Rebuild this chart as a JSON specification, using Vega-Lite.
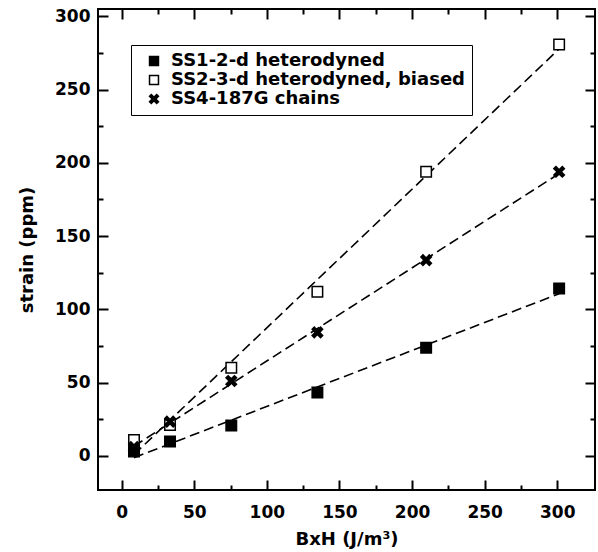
{
  "$schema": "https://vega.github.io/schema/vega-lite/v6.json",
  "width": 497,
  "height": 481,
  "autosize": {"type": "none"},
  "padding": {"left": 98, "top": 9, "right": 3, "bottom": 62},
  "background": "white",
  "config": {
    "view": {"stroke": "black", "strokeWidth": 2},
    "font": "DejaVu Sans",
    "axis": {"domain": false, "grid": false, "ticks": true, "tickColor": "black", "tickWidth": 2, "labelOverlap": false}
  },
  "data": {
    "values": [
      {"series": "SS1-2-d heterodyned", "x": 8.5, "y": 2.9},
      {"series": "SS1-2-d heterodyned", "x": 33.3, "y": 9.8},
      {"series": "SS1-2-d heterodyned", "x": 75.5, "y": 20.7},
      {"series": "SS1-2-d heterodyned", "x": 134.8, "y": 43.2},
      {"series": "SS1-2-d heterodyned", "x": 209.7, "y": 73.8},
      {"series": "SS1-2-d heterodyned", "x": 301.3, "y": 114.3},
      {"series": "SS2-3-d heterodyned, biased", "x": 8.5, "y": 10.9},
      {"series": "SS2-3-d heterodyned, biased", "x": 33.3, "y": 21},
      {"series": "SS2-3-d heterodyned, biased", "x": 75.5, "y": 60.2},
      {"series": "SS2-3-d heterodyned, biased", "x": 134.8, "y": 112},
      {"series": "SS2-3-d heterodyned, biased", "x": 209.7, "y": 193.9},
      {"series": "SS2-3-d heterodyned, biased", "x": 301.3, "y": 280.7},
      {"series": "SS4-187G chains", "x": 8.5, "y": 6},
      {"series": "SS4-187G chains", "x": 33.3, "y": 23.4},
      {"series": "SS4-187G chains", "x": 75.5, "y": 51.1},
      {"series": "SS4-187G chains", "x": 134.8, "y": 84.3},
      {"series": "SS4-187G chains", "x": 209.7, "y": 133.6},
      {"series": "SS4-187G chains", "x": 301.3, "y": 193.9}
    ]
  },
  "layer": [
    {
      "transform": [{"regression": "y", "on": "x", "groupby": ["series"]}],
      "mark": {"type": "line", "stroke": "black", "strokeWidth": 1.6, "strokeDash": [10, 5]},
      "encoding": {
        "x": {"field": "x", "type": "quantitative", "axis": null, "scale": {"domain": [-16.3, 326], "nice": false, "zero": false}},
        "y": {"field": "y", "type": "quantitative", "axis": null, "scale": {"domain": [-23.3, 305], "nice": false, "zero": false}},
        "detail": {"field": "series", "type": "nominal"}
      }
    },
    {
      "mark": {"type": "point", "filled": true, "stroke": "black", "strokeWidth": 1.5, "opacity": 1, "size": 110},
      "encoding": {
        "x": {
          "field": "x", "type": "quantitative",
          "scale": {"domain": [-16.3, 326], "nice": false, "zero": false},
          "axis": {
            "orient": "bottom",
            "values": [0, 50, 100, 150, 200, 250, 300],
            "offset": -10, "tickSize": 10,
            "labelFont": "DejaVu Sans", "labelFontWeight": "bold", "labelFontSize": 17, "labelColor": "black",
            "labelPadding": 14,
            "title": "BxH (J/m³)",
            "titleFont": "DejaVu Sans", "titleFontWeight": "bold", "titleFontSize": 18, "titleColor": "black",
            "titlePadding": 10
          }
        },
        "y": {
          "field": "y", "type": "quantitative",
          "scale": {"domain": [-23.3, 305], "nice": false, "zero": false},
          "axis": {
            "orient": "left",
            "values": [0, 50, 100, 150, 200, 250, 300],
            "offset": -10, "tickSize": 10,
            "labelFont": "DejaVu Sans", "labelFontWeight": "bold", "labelFontSize": 17, "labelColor": "black",
            "labelPadding": 8,
            "title": "strain (ppm)",
            "titleFont": "DejaVu Sans", "titleFontWeight": "bold", "titleFontSize": 18, "titleColor": "black",
            "titlePadding": 18
          }
        },
        "shape": {
          "field": "series", "type": "nominal",
          "scale": {
            "domain": ["SS1-2-d heterodyned", "SS2-3-d heterodyned, biased", "SS4-187G chains"],
            "range": ["square", "square", "M-1,-0.6L-0.6,-1L0,-0.4L0.6,-1L1,-0.6L0.4,0L1,0.6L0.6,1L0,0.4L-0.6,1L-1,0.6L-0.4,0Z"]
          },
          "legend": {
            "title": null, "orient": "none", "legendX": 33, "legendY": 36,
            "strokeColor": "black", "fillColor": "white",
            "padding": 7, "symbolOffset": 7, "symbolSize": 80,
            "labelFont": "DejaVu Sans", "labelFontWeight": "bold", "labelFontSize": 18, "labelColor": "black",
            "labelOffset": 8, "rowPadding": 1, "labelLimit": 400,
            "encode": {
              "legend": {"update": {"strokeWidth": {"value": 2}}},
              "symbols": {"update": {"stroke": {"value": "black"}, "strokeWidth": {"value": 1.5}}}
            }
          }
        },
        "fill": {
          "field": "series", "type": "nominal",
          "scale": {
            "domain": ["SS1-2-d heterodyned", "SS2-3-d heterodyned, biased", "SS4-187G chains"],
            "range": ["black", "white", "black"]
          },
          "legend": {
            "title": null, "orient": "none", "legendX": 33, "legendY": 36,
            "strokeColor": "black", "fillColor": "white",
            "padding": 7, "symbolOffset": 7, "symbolSize": 80,
            "labelFont": "DejaVu Sans", "labelFontWeight": "bold", "labelFontSize": 18, "labelColor": "black",
            "labelOffset": 8, "rowPadding": 1, "labelLimit": 400,
            "encode": {
              "legend": {"update": {"strokeWidth": {"value": 2}}},
              "symbols": {"update": {"stroke": {"value": "black"}, "strokeWidth": {"value": 1.5}}}
            }
          }
        }
      }
    },
    {
      "mark": {"type": "point", "opacity": 0},
      "encoding": {
        "x": {
          "field": "x", "type": "quantitative",
          "scale": {"domain": [-16.3, 326], "nice": false, "zero": false},
          "axis": {"orient": "bottom", "values": [25, 75, 125, 175, 225, 275], "offset": -5, "tickSize": 5, "labels": false, "title": null}
        },
        "y": {
          "field": "y", "type": "quantitative",
          "scale": {"domain": [-23.3, 305], "nice": false, "zero": false},
          "axis": {"orient": "left", "values": [25, 75, 125, 175, 225, 275], "offset": -5, "tickSize": 5, "labels": false, "title": null}
        }
      }
    },
    {
      "mark": {"type": "point", "opacity": 0},
      "encoding": {
        "x": {
          "field": "x", "type": "quantitative",
          "scale": {"domain": [-16.3, 326], "nice": false, "zero": false},
          "axis": {"orient": "top", "values": [0, 50, 100, 150, 200, 250, 300], "offset": -10, "tickSize": 10, "labels": false, "title": null}
        },
        "y": {
          "field": "y", "type": "quantitative",
          "scale": {"domain": [-23.3, 305], "nice": false, "zero": false},
          "axis": {"orient": "right", "values": [0, 50, 100, 150, 200, 250, 300], "offset": -10, "tickSize": 10, "labels": false, "title": null}
        }
      }
    },
    {
      "mark": {"type": "point", "opacity": 0},
      "encoding": {
        "x": {
          "field": "x", "type": "quantitative",
          "scale": {"domain": [-16.3, 326], "nice": false, "zero": false},
          "axis": {"orient": "top", "values": [25, 75, 125, 175, 225, 275], "offset": -5, "tickSize": 5, "labels": false, "title": null}
        },
        "y": {
          "field": "y", "type": "quantitative",
          "scale": {"domain": [-23.3, 305], "nice": false, "zero": false},
          "axis": {"orient": "right", "values": [25, 75, 125, 175, 225, 275], "offset": -5, "tickSize": 5, "labels": false, "title": null}
        }
      }
    }
  ],
  "resolve": {"axis": {"x": "independent", "y": "independent"}}
}
